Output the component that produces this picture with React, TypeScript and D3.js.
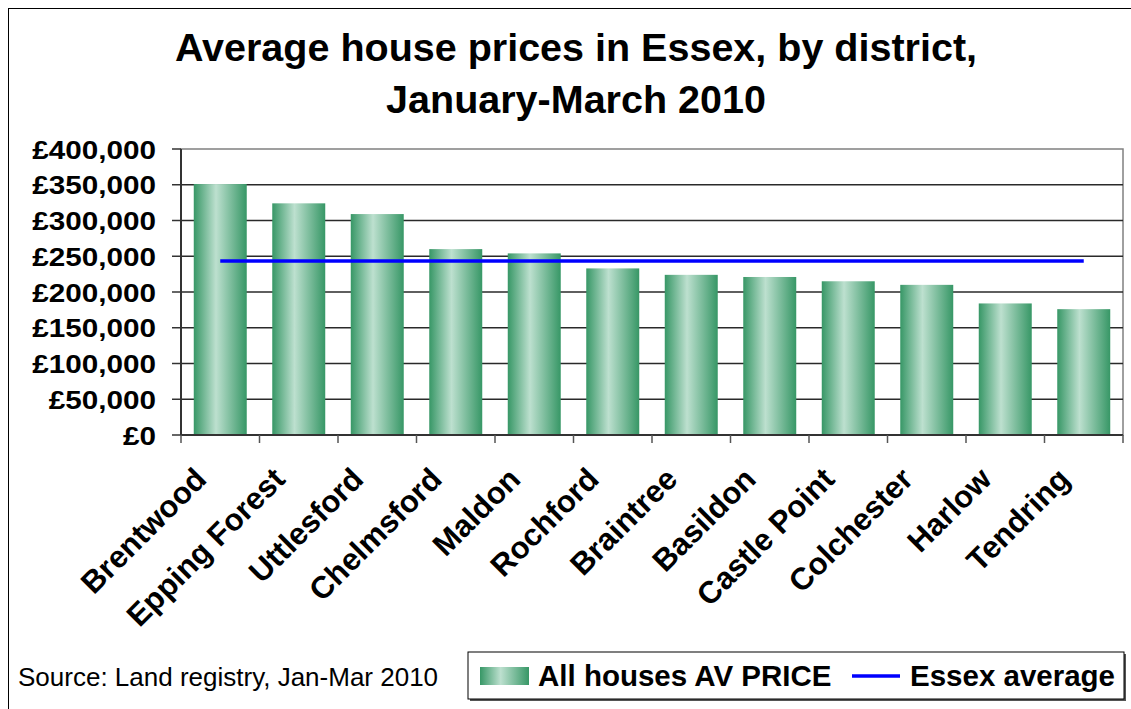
import * as d3 from "d3";

const districts = [
  "Brentwood", "Epping Forest", "Uttlesford", "Chelmsford", "Maldon", "Rochford",
  "Braintree", "Basildon", "Castle Point", "Colchester", "Harlow", "Tendring",
];
const avgPrice = [351000, 324000, 309000, 260000, 254000, 233000, 224000, 221000, 215000, 210000, 184000, 176000];
const essexAverage = 243500;
const yTicks = [0, 50000, 100000, 150000, 200000, 250000, 300000, 350000, 400000];

const W = 1131;
const H = 709;
const FONT = "'Liberation Sans', Arial, sans-serif";

const fmt = (v: number) => "£" + d3.format(",")(v);

export default function App() {
  const left = 181, right = 1123, top = 149, bottom = 435;

  const x = d3.scaleBand<string>().domain(districts).range([left, right]).paddingInner(0.325).paddingOuter(0.1625);
  const band = d3.scaleBand<string>().domain(districts).range([left, right]).padding(0);
  const y = d3.scaleLinear().domain([0, 400000]).range([bottom, top]);

  const lineGen = d3.line<string>()
    .x(d => band(d)! + band.bandwidth() / 2)
    .y(() => y(essexAverage));

  return (
    <svg width={W} height={H} style={{ position: "absolute", left: 0, top: 0, background: "#fff" }} fontFamily={FONT}>
      <defs>
        <linearGradient id="barGrad" x1="0" x2="1" y1="0" y2="0">
          <stop offset="0" stopColor="#379766" />
          <stop offset="0.42" stopColor="#bde0cf" />
          <stop offset="1" stopColor="#379766" />
        </linearGradient>
      </defs>

      {/* chart border */}
      <rect x={8.5} y={8.5} width={W + 20} height={H + 20} fill="none" stroke="#000" strokeWidth={1} />

      {/* title */}
      <g fontWeight="bold" fontSize={39.5} textAnchor="middle" fill="#000">
        <text x={576} y={61}>Average house prices in Essex, by district,</text>
        <text x={576} y={113}>January-March 2010</text>
      </g>

      {/* plot area border */}
      <rect x={left} y={top} width={right - left} height={bottom - top} fill="none" stroke="#808080" strokeWidth={1.5} />

      {/* gridlines */}
      {yTicks.slice(1, -1).map(t => (
        <line key={t} x1={left} x2={right} y1={y(t)} y2={y(t)} stroke="#2a2a2a" strokeWidth={1.5} />
      ))}

      {/* bars */}
      {districts.map((d, i) => (
        <rect key={d} x={x(d)} y={y(avgPrice[i])} width={x.bandwidth()} height={bottom - y(avgPrice[i])} fill="url(#barGrad)" />
      ))}

      {/* Essex average */}
      <path d={lineGen(districts)!} fill="none" stroke="#0000ff" strokeWidth={3.5} />

      {/* y axis */}
      <line x1={left} x2={left} y1={top} y2={bottom} stroke="#333" strokeWidth={2} />
      {yTicks.map(t => (
        <g key={t}>
          <line x1={172} x2={left} y1={y(t)} y2={y(t)} stroke="#333" strokeWidth={1.5} />
          <text transform={`translate(156,${y(t) + 9.5}) scale(1.12,1)`} textAnchor="end" fontWeight="bold" fontSize={26.5}>
            {fmt(t)}
          </text>
        </g>
      ))}

      {/* x axis */}
      <line x1={left} x2={right} y1={bottom} y2={bottom} stroke="#333" strokeWidth={2} />
      {[...districts.map(d => band(d)!), right].map((bx, i) => (
        <line key={i} x1={bx} x2={bx} y1={bottom} y2={bottom + 8} stroke="#555" strokeWidth={1.5} />
      ))}
      {districts.map(d => {
        const cx = band(d)! + band.bandwidth() / 2;
        return (
          <text key={d} transform={`translate(${cx - 12},${481}) rotate(-45)`} textAnchor="end" fontWeight="bold" fontSize={31}>
            {d}
          </text>
        );
      })}

      {/* source */}
      <text x={18} y={686} fontSize={26}>Source: Land registry, Jan-Mar 2010</text>

      {/* legend */}
      <rect x={470} y={654} width={656} height={47} fill="#555" />
      <rect x={468} y={652} width={656} height={47} fill="#fff" stroke="#000" strokeWidth={1} />
      <rect x={480} y={667} width={49} height={18} fill="url(#barGrad)" />
      <text x={538} y={686} fontWeight="bold" fontSize={29.5}>All houses AV PRICE</text>
      <line x1={852} x2={900} y1={676} y2={676} stroke="#0000ff" strokeWidth={3.5} />
      <text x={910} y={686} fontWeight="bold" fontSize={29.5}>Essex average</text>
    </svg>
  );
}
